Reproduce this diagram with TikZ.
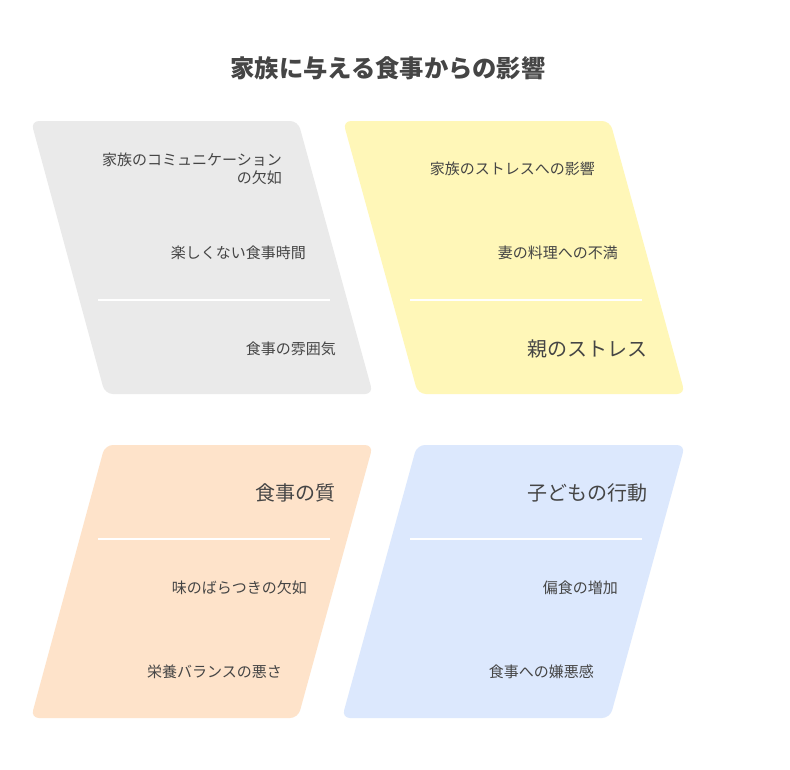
\documentclass[tikz,border=0pt]{standalone}
\usepackage{fontspec}
\setmainfont{Noto Sans CJK JP}
\definecolor{cgray}{HTML}{EAEAEA}
\definecolor{cyellow}{HTML}{FFF7B8}
\definecolor{corange}{HTML}{FEE3CA}
\definecolor{cblue}{HTML}{DCE8FD}
\definecolor{ctext}{HTML}{454545}
\tikzset{
  x=1pt, y=-1pt,
  panel/.style={rounded corners=8pt},
  divider/.style={white, line width=1.5pt},
  small/.style={anchor=east, inner sep=0pt, text=ctext, font=\fontsize{15}{18}\selectfont, align=right},
  big/.style={anchor=east, inner sep=0pt, text=ctext, font=\fontsize{20}{22}\selectfont},
  titlestyle/.style={inner sep=0pt, text=ctext, font=\fontsize{24.3}{26}\selectfont\bfseries}
}
\begin{document}
\begin{tikzpicture}
\useasboundingbox[fill=white] (0,0) rectangle (790,769);
% panels
\fill[cgray, panel] (31,121) -- (298,121) -- (373,394) -- (105,394) -- cycle;
\fill[cyellow, panel] (343,121) -- (610,121) -- (685,394) -- (418,394) -- cycle;
\fill[corange, panel] (105,445) -- (373,445) -- (298,718) -- (31,718) -- cycle;
\fill[cblue, panel] (417,445) -- (685,445) -- (610,718) -- (342,718) -- cycle;
% dividers
\draw[divider] (98,300) -- (330,300);
\draw[divider] (410,300) -- (642,300);
\draw[divider] (98,539) -- (330,539);
\draw[divider] (410,539) -- (642,539);
% title
\node[titlestyle] (title) at (388,68) {家族に与える食事からの影響};
% gray panel
\node[small] (g1) at (282,169) {家族のコミュニケーション\\の欠如};
\node[small] (g2) at (306,253) {楽しくない食事時間};
\node[small] (g3) at (336,349) {食事の雰囲気};
% yellow panel
\node[small] (y1) at (595,169) {家族のストレスへの影響};
\node[small] (y2) at (618,253) {妻の料理への不満};
\node[big] (y3) at (648,349) {親のストレス};
% orange panel
\node[big] (o1) at (336,493) {食事の質};
\node[small] (o2) at (307,588) {味のばらつきの欠如};
\node[small] (o3) at (282,672) {栄養バランスの悪さ};
% blue panel
\node[big] (b1) at (648,493) {子どもの行動};
\node[small] (b2) at (618,588) {偏食の増加};
\node[small] (b3) at (594,672) {食事への嫌悪感};
\end{tikzpicture}
\end{document}
